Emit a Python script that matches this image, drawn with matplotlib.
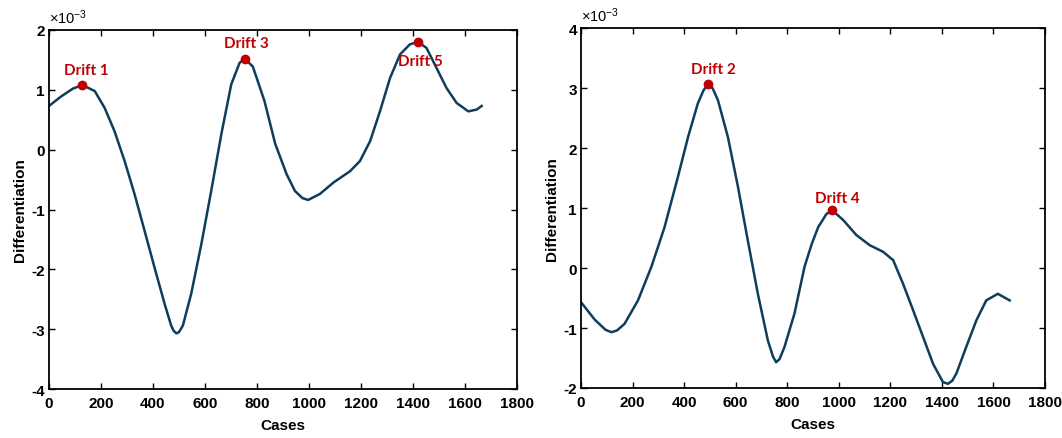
import matplotlib
matplotlib.use("Agg")
import matplotlib.pyplot as plt

# ---------------------------------------------------------------------------
# Dados (em unidades de 1e-3)
# ---------------------------------------------------------------------------

left_x = [0, 47, 92, 128, 176, 214, 252, 291, 329, 368, 406, 445, 470, 480,
          490, 500, 515, 547, 586, 624, 663, 701, 733, 753, 784, 829, 870,
          914, 946, 975, 997, 1042, 1094, 1158, 1196, 1235, 1273, 1312, 1350,
          1388, 1420, 1452, 1490, 1529, 1568, 1613, 1645, 1664]
left_y = [0.73, 0.89, 1.02, 1.08, 0.98, 0.70, 0.31, -0.19, -0.74, -1.36,
          -1.97, -2.58, -2.94, -3.03, -3.07, -3.05, -2.94, -2.41, -1.58,
          -0.69, 0.26, 1.09, 1.45, 1.52, 1.39, 0.81, 0.10, -0.41, -0.69,
          -0.81, -0.84, -0.74, -0.55, -0.36, -0.19, 0.14, 0.64, 1.20, 1.59,
          1.76, 1.80, 1.70, 1.37, 1.03, 0.78, 0.64, 0.67, 0.73]

right_x = [0, 53, 95, 118, 140, 169, 221, 273, 324, 376, 415, 453, 475, 492,
           510, 531, 570, 609, 647, 686, 725, 745, 757, 770, 789, 828, 867,
           895, 920, 952, 975, 1017, 1068, 1120, 1172, 1211, 1249, 1288, 1327,
           1366, 1404, 1423, 1440, 1456, 1494, 1534, 1572, 1617, 1663]
right_y = [-0.57, -0.86, -1.03, -1.07, -1.04, -0.93, -0.54, 0.02, 0.68, 1.52,
           2.18, 2.74, 2.96, 3.06, 3.00, 2.80, 2.18, 1.35, 0.46, -0.43, -1.21,
           -1.48, -1.57, -1.52, -1.32, -0.76, 0.02, 0.40, 0.68, 0.90, 0.96,
           0.80, 0.55, 0.38, 0.27, 0.13, -0.26, -0.70, -1.15, -1.60, -1.90,
           -1.93, -1.88, -1.76, -1.32, -0.87, -0.54, -0.43, -0.54]

left_drift_names = ["Drift 1", "Drift 3", "Drift 5"]
left_drift_x = [128, 753, 1420]
left_drift_y = [1.08, 1.52, 1.80]

right_drift_names = ["Drift 2", "Drift 4"]
right_drift_x = [492, 975]
right_drift_y = [3.06, 0.96]

x_ticks = [0, 200, 400, 600, 800, 1000, 1200, 1400, 1600, 1800]
left_y_ticks = [-4, -3, -2, -1, 0, 1, 2]
right_y_ticks = [-2, -1, 0, 1, 2, 3, 4]

# ---------------------------------------------------------------------------
# Estilo
# ---------------------------------------------------------------------------

plt.rcParams["font.family"] = ["Liberation Sans", "DejaVu Sans"]
plt.rcParams["mathtext.default"] = "regular"
plt.rcParams["axes.unicode_minus"] = False

LINE_COLOR = "#0f3d5c"
DRIFT_COLOR = "#c00000"
DRIFT_FONT = dict(family="Lato", weight="bold", size=11)
LABEL_FONT = dict(family="Liberation Sans", weight="bold", size=11)


def draw_panel(ax, xs, ys, yticks, names, dx, dy, label_offsets):
    ax.plot(xs, ys, color=LINE_COLOR, linewidth=1.8, zorder=2,
            solid_joinstyle="round")
    ax.plot(dx, dy, "o", color=DRIFT_COLOR, markersize=6, zorder=3)
    for name, x, y, off in zip(names, dx, dy, label_offsets):
        ax.annotate(name, (x, y), xytext=off, textcoords="offset points",
                    ha="center", va="center", color=DRIFT_COLOR, **DRIFT_FONT)

    ax.set_xlim(0, 1800)
    ax.set_ylim(yticks[0], yticks[-1])
    ax.set_xticks(x_ticks)
    ax.set_yticks(yticks)
    ax.set_xticklabels([str(t) for t in x_ticks], fontdict=LABEL_FONT)
    ax.set_yticklabels([str(t) for t in yticks], fontdict=LABEL_FONT)
    ax.tick_params(direction="in", length=4, width=1, top=True, right=True)
    ax.tick_params(axis="x", pad=5)
    ax.tick_params(axis="y", pad=3)
    for s in ax.spines.values():
        s.set_linewidth(1.3)
    ax.set_xlabel("Cases", labelpad=6, fontdict=LABEL_FONT)
    ax.set_ylabel("Differentiation", labelpad=3, fontdict=LABEL_FONT)
    ax.text(0.0, 1.01, r"$\times10^{-3}$", transform=ax.transAxes,
            ha="left", va="bottom", fontsize=10.5)


fig = plt.figure(figsize=(10.62, 4.39), dpi=100)
ax1 = fig.add_axes([0.0461, 0.1116, 0.4407, 0.8178])
ax2 = fig.add_axes([0.5471, 0.1139, 0.4369, 0.8200])

draw_panel(ax1, left_x, left_y, left_y_ticks, left_drift_names,
           left_drift_x, left_drift_y, [(3, 11), (1, 11.5), (1.5, -13.5)])
draw_panel(ax2, right_x, right_y, right_y_ticks, right_drift_names,
           right_drift_x, right_drift_y, [(4, 11), (3.5, 9)])

fig.savefig("out.png", dpi=100)
